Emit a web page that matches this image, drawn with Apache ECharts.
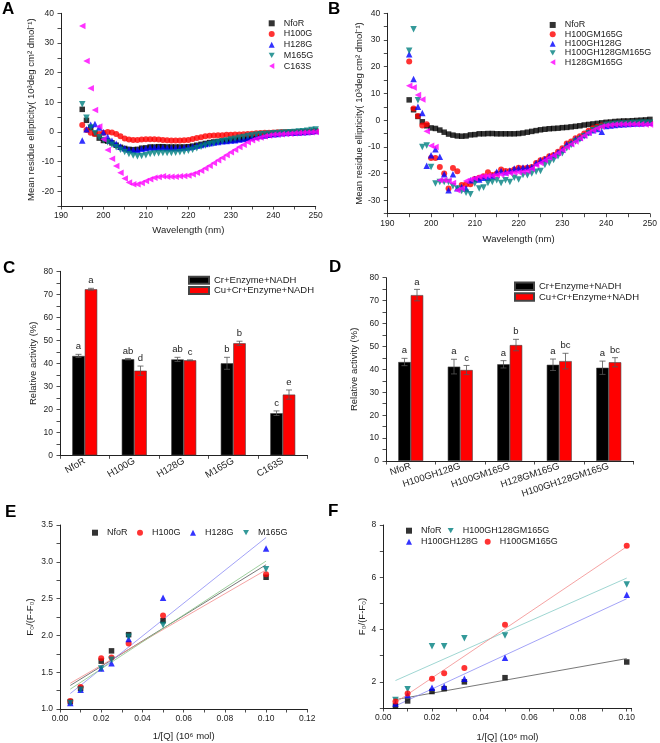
<!DOCTYPE html>
<html><head><meta charset="utf-8">
<script src="https://cdn.jsdelivr.net/npm/echarts@6/dist/echarts.min.js"></script>
<style>html,body{margin:0;padding:0;background:#fff}#c{width:660px;height:743px}</style>
</head><body><div id="c"></div><script>
// ---------- DATA ----------
const wavelengths = [195,196,197,198,199,200,201,202,203,204,205,206,207,208,209,210,211,212,213,214,215,216,217,218,219,220,221,222,223,224,225,226,227,228,229,230,231,232,233,234,235,236,237,238,239,240,241,242,243,244,245,246,247,248,249,250];

const cdNfoR = [7.6,3.9,1.4,-0.6,-2.1,-2.9,-3.1,-3.7,-4.5,-5.2,-5.6,-5.9,-6.0,-5.9,-5.5,-5.4,-5.1,-5.1,-5.0,-5.0,-5.1,-5.1,-5.1,-5.1,-5.1,-5.0,-4.8,-4.5,-4.2,-3.9,-3.6,-3.4,-3.2,-3.1,-3.0,-2.8,-2.7,-2.5,-2.3,-2.1,-1.8,-1.6,-1.4,-1.2,-1.0,-0.8,-0.7,-0.5,-0.4,-0.3,-0.3,-0.2,-0.1,0.0,0.1,0.3];
const cdH100G = [2.3,0.6,-0.3,-0.7,-0.7,-0.3,0.0,-0.2,-0.7,-1.5,-2.2,-2.6,-2.7,-2.7,-2.6,-2.5,-2.5,-2.5,-2.6,-2.7,-2.8,-2.9,-2.9,-2.9,-2.8,-2.7,-2.4,-2.1,-1.8,-1.5,-1.3,-1.2,-1.1,-1.1,-1.0,-1.0,-0.9,-0.9,-0.8,-0.7,-0.6,-0.5,-0.4,-0.3,-0.3,-0.2,-0.1,0.0,0.0,0.0,0.0,0.0,0.0,0.1,0.1,0.2];
const cdH128G = [-2.9,0.9,2.4,2.7,1.5,-0.1,-1.7,-3.0,-4.0,-4.9,-5.5,-5.9,-6.1,-6.0,-5.7,-5.5,-5.3,-5.3,-5.3,-5.3,-5.4,-5.4,-5.4,-5.4,-5.3,-5.2,-5.0,-4.7,-4.4,-4.1,-3.8,-3.6,-3.4,-3.2,-3.1,-2.9,-2.8,-2.6,-2.4,-2.1,-1.9,-1.6,-1.4,-1.2,-1.0,-0.8,-0.7,-0.5,-0.4,-0.3,-0.3,-0.2,-0.1,0.0,0.1,0.3];
const cdM165G = [9.3,4.8,1.5,-0.5,-1.8,-2.7,-3.5,-4.3,-5.2,-6.0,-6.8,-7.5,-8.0,-8.2,-8.1,-7.9,-7.5,-7.3,-7.2,-7.1,-7.1,-7.1,-7.0,-6.9,-6.7,-6.4,-6.0,-5.5,-5.0,-4.6,-4.2,-3.9,-3.5,-3.2,-2.9,-2.6,-2.3,-2.0,-1.7,-1.4,-1.2,-1.0,-0.8,-0.7,-0.6,-0.5,-0.4,-0.3,-0.2,-0.1,0.0,0.1,0.2,0.4,0.6,0.8];
const cdC163S = [35.7,23.9,14.7,7.4,1.8,-2.5,-6.1,-9.1,-11.5,-13.8,-15.7,-17.1,-17.7,-17.7,-17.2,-16.6,-16.0,-15.5,-15.2,-15.0,-15.1,-15.1,-15.1,-15.0,-14.9,-14.7,-14.3,-13.8,-13.1,-12.3,-11.4,-10.5,-9.6,-8.7,-7.8,-6.9,-6.0,-5.1,-4.3,-3.5,-2.8,-2.3,-1.9,-1.5,-1.2,-1.0,-0.9,-0.8,-0.7,-0.6,-0.5,-0.4,-0.3,-0.2,-0.1,0.0];

const cdH100GM165G = [22.0,4.4,1.6,-2.0,-1.5,-14.2,-14.2,-17.5,-20.0,-25.6,-17.9,-19.1,-24.3,-24.0,-24.0,-22.0,-21.5,-21.0,-19.5,-20.5,-20.0,-18.5,-19.0,-19.0,-18.5,-17.8,-18.0,-17.8,-17.5,-16.0,-15.0,-14.5,-13.5,-13.0,-11.8,-10.5,-8.7,-8.0,-6.8,-6.0,-5.0,-4.0,-3.0,-2.5,-2.0,-1.8,-1.6,-1.5,-1.4,-1.3,-1.2,-1.2,-1.1,-1.1,-1.0,-1.0];
const cdH100GH128G = [24.7,15.4,5.0,2.7,-17.1,-13.1,-10.9,-13.7,-20.2,-26.2,-20.2,-25.5,-25.0,-25.6,-22.5,-22.0,-22.2,-21.5,-21.5,-21.0,-19.3,-19.0,-19.5,-18.8,-18.1,-18.0,-17.7,-17.5,-17.5,-16.0,-15.0,-14.5,-13.5,-13.0,-12.0,-11.0,-9.0,-8.5,-7.0,-6.5,-5.5,-4.5,-3.8,-3.3,-4.3,-2.2,-2.0,-1.8,-1.6,-1.5,-1.4,-1.3,-1.2,-1.2,-1.1,-1.0];
const cdH100GH128GM165G = [26.0,34.0,7.5,-10.0,-9.5,-17.5,-23.7,-23.1,-23.1,-23.1,-24.7,-25.6,-26.5,-27.2,-27.7,-23.7,-25.6,-25.2,-23.5,-23.1,-22.5,-23.5,-22.5,-23.1,-21.5,-22.2,-20.5,-20.6,-20.0,-19.3,-19.0,-16.8,-16.0,-14.9,-13.5,-12.4,-10.5,-9.3,-8.0,-7.2,-6.0,-4.9,-3.8,-3.1,-2.5,-1.8,-1.6,-1.4,-1.3,-1.2,-1.2,-1.1,-1.1,-1.0,-1.0,-1.0];
const cdH128GM165G = [12.9,12.2,9.4,7.7,-4.1,-9.6,-10.0,-22.5,-22.5,-22.7,-23.5,-26.2,-25.6,-22.8,-22.2,-21.8,-21.2,-21.0,-20.8,-20.8,-20.5,-20.3,-20.0,-19.8,-19.6,-19.5,-19.3,-19.0,-18.2,-16.8,-16.0,-15.0,-14.0,-13.2,-12.3,-11.2,-10.0,-9.0,-8.0,-6.8,-5.7,-4.7,-3.8,-3.0,-2.4,-2.0,-1.8,-1.6,-1.5,-1.5,-1.5,-1.5,-1.5,-1.5,-1.6,-1.6];

const C_categories = ['NfoR','H100G','H128G','M165G','C163S'];
const C_cr = [43.2,41.8,41.7,40.0,18.3];
const C_crErr = [0.7,0.3,0.9,2.6,1.0];
const C_cu = [72.2,36.8,41.3,48.7,26.4];
const C_cuErr = [0.4,2.0,0.2,0.9,2.0];
const C_crLetters = ['a','ab','ab','b','c'];
const C_cuLetters = ['a','d','c','b','e'];

const D_categories = ['NfoR','H100GH128G','H100GM165G','H128GM165G','H100GH128GM165G'];
const D_cr = [43.2,41.2,42.2,42.0,40.7];
const D_crErr = [1.6,3.2,1.6,2.5,2.9];
const D_cu = [72.4,39.7,50.6,43.6,43.1];
const D_cuErr = [2.5,2.0,2.5,3.4,2.0];
const D_crLetters = ['a','a','a','a','a'];
const D_cuLetters = ['a','c','b','bc','bc'];

const invQ = [0.005,0.01,0.02,0.025,0.0333,0.05,0.1];
const E_NfoR = [1.10,1.28,1.65,1.79,2.01,2.20,2.79];
const E_H100G = [1.11,1.30,1.69,1.70,1.89,2.27,2.83];
const E_H128G = [1.08,1.26,1.55,1.62,1.95,2.51,3.18];
const E_M165G = [1.08,1.26,1.55,1.67,1.98,2.14,2.90];
const fitX = [0.005,0.1];
const E_fitNfoR = [1.32,2.96];
const E_fitH100G = [1.35,2.89];
const E_fitH128G = [1.21,3.33];
const E_fitM165G = [1.27,3.01];

const F_NfoR = [1.08,1.27,1.63,1.74,2.00,2.16,2.76];
const F_H100GH128GM165G = [1.31,1.72,3.36,3.36,3.67,3.77,5.72];
const F_H100GH128G = [1.17,1.50,1.77,1.82,2.12,2.92,5.33];
const F_H100GM165G = [1.25,1.55,2.12,2.33,2.53,4.18,7.21];
const F_fitNfoR = [1.32,2.89];
const F_fitH100GH128GM165G = [2.05,5.97];
const F_fitH100GH128G = [1.08,5.18];
const F_fitH100GM165G = [1.21,7.17];

// ---------- HELPERS ----------
const FONT = 'Liberation Sans, Arial, sans-serif';
const AX = '#222';
const zip = (xs, ys) => xs.map((x, i) => [x, ys[i]]);

const ICON = {
  rect: 'rect', circle: 'circle', up: 'triangle',
  down: 'path://M0,0L10,0L5,8.66Z',
  left: 'path://M8.66,0L8.66,10L0,5Z'
};
const SHAPE = {
  'NfoR': 'rect', 'H100G': 'circle', 'H128G': 'up', 'M165G': 'down', 'C163S': 'left',
  'H100GM165G': 'circle', 'H100GH128G': 'up', 'H100GH128GM165G': 'down', 'H128GM165G': 'left'
};
const ROT = {rect: 0, circle: 0, up: 0, down: 180, left: 90};
const SYM = {rect: 'rect', circle: 'circle', up: 'triangle', down: 'triangle', left: 'triangle'};
const SIZE = {rect: 5.5, circle: 6, up: 6.5, down: 6.5, left: 6.5};

function valAxis(gi, min, max, step, labelStep, dec, name, nameGap, isY) {
  return {
    type: 'value', gridIndex: gi, min: min, max: max, interval: step,
    name: name, nameLocation: 'middle', nameGap: nameGap,
    nameTextStyle: {fontFamily: FONT, fontSize: 9.5, color: AX},
    axisLine: {show: true, onZero: false, lineStyle: {color: AX, width: 1}},
    axisTick: {show: true, length: 3.5, lineStyle: {color: AX, width: 0.8}},
    splitLine: {show: false},
    axisLabel: {fontFamily: FONT, fontSize: 8.5, color: AX, margin: isY ? 7 : 5,
      showMinLabel: true, showMaxLabel: true,
      formatter: v => {
        const r = v / labelStep;
        if (Math.abs(r - Math.round(r)) > 1e-6) return '';
        return Number(v).toFixed(dec);
      }}
  };
}
function catAxis(gi, cats, rot) {
  return {type: 'category', gridIndex: gi, data: cats,
    axisLine: {show: true, lineStyle: {color: AX, width: 1}},
    axisTick: {show: true, length: 3.5, lineStyle: {color: AX, width: 0.8}},
    axisLabel: {fontFamily: FONT, fontSize: 9.5, color: AX, rotate: rot, margin: 5, interval: 0}};
}
function scat(name, gi, xs, ys, color) {
  const s = SHAPE[name];
  return {type: 'scatter', name: name, xAxisIndex: gi, yAxisIndex: gi, data: zip(xs, ys),
    symbol: SYM[s], symbolRotate: ROT[s], symbolSize: SIZE[s],
    itemStyle: {color: color}};
}
function fitLine(name, gi, ys, color) {
  return {type: 'line', name: name, xAxisIndex: gi, yAxisIndex: gi, data: zip(fitX, ys),
    showSymbol: false, symbol: 'none', lineStyle: {color: color, width: 0.8}, z: 1, silent: true};
}
const BARW = 12.5;
function bar(name, gi, vals, color) {
  return {type: 'bar', name: name, xAxisIndex: gi, yAxisIndex: gi, data: vals,
    barWidth: BARW, barGap: '0%', itemStyle: {color: color, borderColor: '#444', borderWidth: 0.6}};
}
function errs(gi, vals, es, letters, sign) {
  return {type: 'custom', xAxisIndex: gi, yAxisIndex: gi, z: 5, silent: true,
    data: vals.map((v, i) => [i, v, es[i]]), encode: {x: 0, y: 1},
    renderItem: (params, api) => {
      const i = api.value(0), v = api.value(1), e = api.value(2);
      const x = api.coord([i, v])[0] + sign * BARW / 2;
      const yt = api.coord([i, v + e])[1], yb = api.coord([i, v - e])[1];
      const st = {stroke: '#555', lineWidth: 0.8};
      return {type: 'group', children: [
        {type: 'line', shape: {x1: x, y1: yt, x2: x, y2: yb}, style: st},
        {type: 'line', shape: {x1: x - 3, y1: yt, x2: x + 3, y2: yt}, style: st},
        {type: 'line', shape: {x1: x - 3, y1: yb, x2: x + 3, y2: yb}, style: st},
        {type: 'text', x: x, y: yt - 2.5, style: {text: letters[params.dataIndex],
          textAlign: 'center', textVerticalAlign: 'bottom', font: '9.5px ' + FONT, fill: '#222'}}
      ]};
    }};
}
function markerLegend(names, left, top, opts) {
  return Object.assign({show: true, left: left, top: top, orient: 'vertical',
    data: names.map(n => ({name: n, icon: ICON[SHAPE[n]]})),
    symbolRotate: 0, symbolKeepAspect: true,
    itemWidth: 6, itemHeight: 6, itemGap: 0, padding: 0, selectedMode: false,
    textStyle: {fontFamily: FONT, fontSize: 9, color: AX, lineHeight: 10, padding: [0, 0, 0, 4]}}, opts || {});
}
function barLegend(left, top, w, h, lh) {
  return {show: true, left: left, top: top, orient: 'vertical', padding: 0, itemGap: 0,
    selectedMode: false, itemWidth: w, itemHeight: h,
    data: [{name: 'Cr+Enzyme+NADH', icon: 'rect'}, {name: 'Cu+Cr+Enzyme+NADH', icon: 'rect'}],
    textStyle: {fontFamily: FONT, fontSize: 9.5, color: AX, lineHeight: lh}};
}

const BLK = '#000000', RED = '#ff0000', BLU = '#0000ff', TEAL = '#008080', MAG = '#ff00ff';

const option = {
  animation: false,
  backgroundColor: '#fff',
  grid: [
    {left: 61, top: 13.3, width: 254.7, height: 192.7},
    {left: 387.3, top: 13.3, width: 265, height: 200.4},
    {left: 60, top: 271.3, width: 247.5, height: 184},
    {left: 386, top: 277.7, width: 247.5, height: 183.3},
    {left: 60, top: 525, width: 247.3, height: 184},
    {left: 383.3, top: 525, width: 248.3, height: 184.3}
  ],
  xAxis: [
    valAxis(0, 190, 250, 5, 10, 0, 'Wavelength (nm)', 19.5, false),
    valAxis(1, 190, 250, 5, 10, 0, 'Wavelength (nm)', 20.5, false),
    catAxis(2, C_categories, 30),
    catAxis(3, D_categories, 18),
    valAxis(4, 0, 0.12, 0.01, 0.02, 2, '1/[Q] (10\u2076 mol)', 22.5, false),
    valAxis(5, 0, 0.102, 0.01, 0.02, 2, '1/[Q] (10\u2076 mol)', 24, false)
  ],
  yAxis: [
    valAxis(0, -25, 40, 5, 10, 0, 'Mean residue ellipticity( 10\u00b3deg cm\u00b2 dmol\u207b\u00b9)', 25, true),
    valAxis(1, -35, 40, 5, 10, 0, 'Mean residue ellipticity( 10\u00b3deg cm\u00b2 dmol\u207b\u00b9)', 22, true),
    valAxis(2, 0, 80, 5, 10, 0, 'Relative activity (%)', 22, true),
    valAxis(3, 0, 80, 5, 10, 0, 'Relative activity (%)', 26.5, true),
    valAxis(4, 1, 3.5, 0.25, 0.5, 1, 'F\u2080/(F-F\u2080)', 25, true),
    valAxis(5, 1, 8, 1, 2, 0, 'F\u2080/(F-F\u2080)', 14.5, true)
  ],
  legend: [
    markerLegend(['NfoR','H100G','H128G','M165G','C163S'], 268.7, 18.3, {itemGap: 0.7}),
    markerLegend(['NfoR','H100GM165G','H100GH128G','H100GH128GM165G','H128GM165G'], 549.7, 20.3,
      {textStyle: {fontFamily: FONT, fontSize: 9, color: AX, lineHeight: 9.33, padding: [0, 0, 0, 4]}}),
    barLegend(188, 275, 20, 7, 10.3),
    barLegend(514, 281, 19, 7.5, 10.7),
    markerLegend(['NfoR','H100G','H128G','M165G'], 92, 527.7, {orient: 'horizontal', itemGap: 9.5}),
    markerLegend(['NfoR'], 406, 525.7),
    markerLegend(['H100GH128GM165G'], 447.7, 525.7),
    markerLegend(['H100GH128G'], 406, 536.7),
    markerLegend(['H100GM165G'], 484.7, 536.7)
  ],
  graphic: [
    {type: 'text', left: 2, top: 0.5, style: {text: 'A', font: 'bold 17px ' + FONT, fill: '#000'}},
    {type: 'text', left: 328, top: 0.5, style: {text: 'B', font: 'bold 17px ' + FONT, fill: '#000'}},
    {type: 'text', left: 3, top: 260, style: {text: 'C', font: 'bold 17px ' + FONT, fill: '#000'}},
    {type: 'text', left: 329, top: 259, style: {text: 'D', font: 'bold 17px ' + FONT, fill: '#000'}},
    {type: 'text', left: 5, top: 503.5, style: {text: 'E', font: 'bold 17px ' + FONT, fill: '#000'}},
    {type: 'text', left: 328, top: 502.5, style: {text: 'F', font: 'bold 17px ' + FONT, fill: '#000'}}
  ],
  series: [
    scat('NfoR', 0, wavelengths, cdNfoR, BLK),
    scat('H100G', 0, wavelengths, cdH100G, RED),
    scat('H128G', 0, wavelengths, cdH128G, BLU),
    scat('M165G', 0, wavelengths, cdM165G, TEAL),
    scat('C163S', 0, wavelengths, cdC163S, MAG),

    scat('NfoR', 1, wavelengths, cdNfoR, BLK),
    scat('H100GM165G', 1, wavelengths, cdH100GM165G, RED),
    scat('H100GH128G', 1, wavelengths, cdH100GH128G, BLU),
    scat('H100GH128GM165G', 1, wavelengths, cdH100GH128GM165G, TEAL),
    scat('H128GM165G', 1, wavelengths, cdH128GM165G, MAG),

    bar('Cr+Enzyme+NADH', 2, C_cr, BLK),
    bar('Cu+Cr+Enzyme+NADH', 2, C_cu, RED),
    errs(2, C_cr, C_crErr, C_crLetters, -1),
    errs(2, C_cu, C_cuErr, C_cuLetters, 1),

    bar('Cr+Enzyme+NADH', 3, D_cr, BLK),
    bar('Cu+Cr+Enzyme+NADH', 3, D_cu, RED),
    errs(3, D_cr, D_crErr, D_crLetters, -1),
    errs(3, D_cu, D_cuErr, D_cuLetters, 1),

    fitLine('fitE-NfoR', 4, E_fitNfoR, '#555555'),
    fitLine('fitE-H100G', 4, E_fitH100G, '#f28c8c'),
    fitLine('fitE-H128G', 4, E_fitH128G, '#8c8cf5'),
    fitLine('fitE-M165G', 4, E_fitM165G, '#86c486'),
    scat('NfoR', 4, invQ, E_NfoR, BLK),
    scat('H100G', 4, invQ, E_H100G, RED),
    scat('H128G', 4, invQ, E_H128G, BLU),
    scat('M165G', 4, invQ, E_M165G, TEAL),

    fitLine('fitF-NfoR', 5, F_fitNfoR, '#555555'),
    fitLine('fitF-H100GH128GM165G', 5, F_fitH100GH128GM165G, '#86cbc6'),
    fitLine('fitF-H100GH128G', 5, F_fitH100GH128G, '#8c8cf5'),
    fitLine('fitF-H100GM165G', 5, F_fitH100GM165G, '#f28c8c'),
    scat('NfoR', 5, invQ, F_NfoR, BLK),
    scat('H100GH128GM165G', 5, invQ, F_H100GH128GM165G, TEAL),
    scat('H100GH128G', 5, invQ, F_H100GH128G, BLU),
    scat('H100GM165G', 5, invQ, F_H100GM165G, RED)
  ]
};
const chart = echarts.init(document.getElementById('c'), null, {renderer: 'canvas'});
chart.setOption(option);
</script></body></html>
